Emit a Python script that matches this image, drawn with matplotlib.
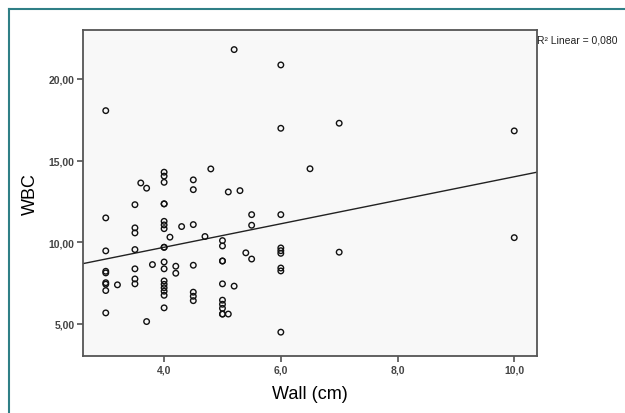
import matplotlib.pyplot as plt
from matplotlib.lines import Line2D
import numpy as np

plt.rcParams['font.family'] = ['Liberation Sans', 'DejaVu Sans']

# Wall (cm) and WBC readings, grouped by wall value
wall = [3.0]*9 + [3.2] + [3.5]*7 + [3.6] + [3.7]*2 + [3.8] + [4.0]*18 + [4.1] + [4.2]*2 + [4.3] \
    + [4.5]*7 + [4.7] + [4.8] + [5.0]*10 + [5.1]*2 + [5.2]*2 + [5.3] + [5.4] + [5.5]*3 \
    + [6.0]*9 + [6.5] + [7.0]*2 + [10.0]*2
wbc = [18.06, 11.49, 9.47, 8.22, 8.12, 7.52, 7.43, 7.04, 5.67,
       7.39,
       12.30, 10.88, 10.57, 9.55, 8.37, 7.75, 7.45,
       13.63,
       13.31, 5.14,
       8.63,
       14.29, 14.05, 13.67, 12.35, 12.35, 11.28, 11.06, 10.83, 9.69, 9.69,
       8.79, 8.37, 7.63, 7.42, 7.21, 7.00, 6.75, 5.98,
       10.31,
       8.53, 8.10,
       10.96,
       13.82, 13.22, 11.08, 8.59, 6.94, 6.69, 6.42,
       10.35,
       14.49,
       10.10, 9.77, 8.85, 8.85, 7.45, 6.45, 6.20, 5.95, 5.60, 5.60,
       13.08, 5.60,
       21.80, 7.31,
       13.16,
       9.35,
       11.69, 11.04, 8.97,
       20.86, 16.98, 11.69, 9.65, 9.48, 9.32, 8.42, 8.24, 4.49,
       14.50,
       17.29, 9.39,
       16.82, 10.28]

# fit line as drawn in the chart
fit_intercept = 6.81
fit_slope = 0.72

x_ticks = [4.0, 6.0, 8.0, 10.0]
x_labels = ['4,0', '6,0', '8,0', '10,0']
y_ticks = [5, 10, 15, 20]
y_labels = ['5,00', '10,00', '15,00', '20,00']
r2_text = 'R² Linear = 0,080'

fig = plt.figure(figsize=(6.25, 4.14), dpi=100)
ax = fig.add_axes([0.1328, 0.1365, 0.7264, 0.7886])
ax.set_facecolor('#f8f8f8')

ax.scatter(wall, wbc, s=16, facecolors='none', edgecolors='#111111', linewidths=1.0, zorder=3)

xlim = (2.61, 10.39)
xs = np.array(xlim)
ax.plot(xs, fit_intercept + fit_slope * xs, color='#222222', lw=1.0, zorder=2)

ax.set_xlim(*xlim)
ax.set_ylim(3.0, 23.0)
ax.set_xticks(x_ticks)
ax.set_xticklabels(x_labels, fontweight='bold')
ax.set_yticks(y_ticks)
ax.set_yticklabels(y_labels, fontweight='bold')
ax.tick_params(axis='both', direction='out', length=4, width=1.1, color='#444444',
               labelsize=7.5, labelcolor='#444444', pad=2)
for s in ax.spines.values():
    s.set_color('#555555')
    s.set_linewidth(1.3)

ax.set_xlabel('Wall (cm)', fontsize=13, labelpad=7)
ax.set_ylabel('WBC', fontsize=13, labelpad=7)
ax.text(1.0, 0.985, r2_text, transform=ax.transAxes, fontsize=7.5, color='#222222',
        ha='left', va='top')

# teal frame on the top and left of the figure
teal = '#2f7f86'
fig.add_artist(Line2D([9/625, 1.0], [1 - 10/414, 1 - 10/414], color=teal, lw=1.5))
fig.add_artist(Line2D([9/625, 9/625], [0.0, 1 - 10/414], color=teal, lw=1.5))

fig.savefig('out.png', dpi=100)
